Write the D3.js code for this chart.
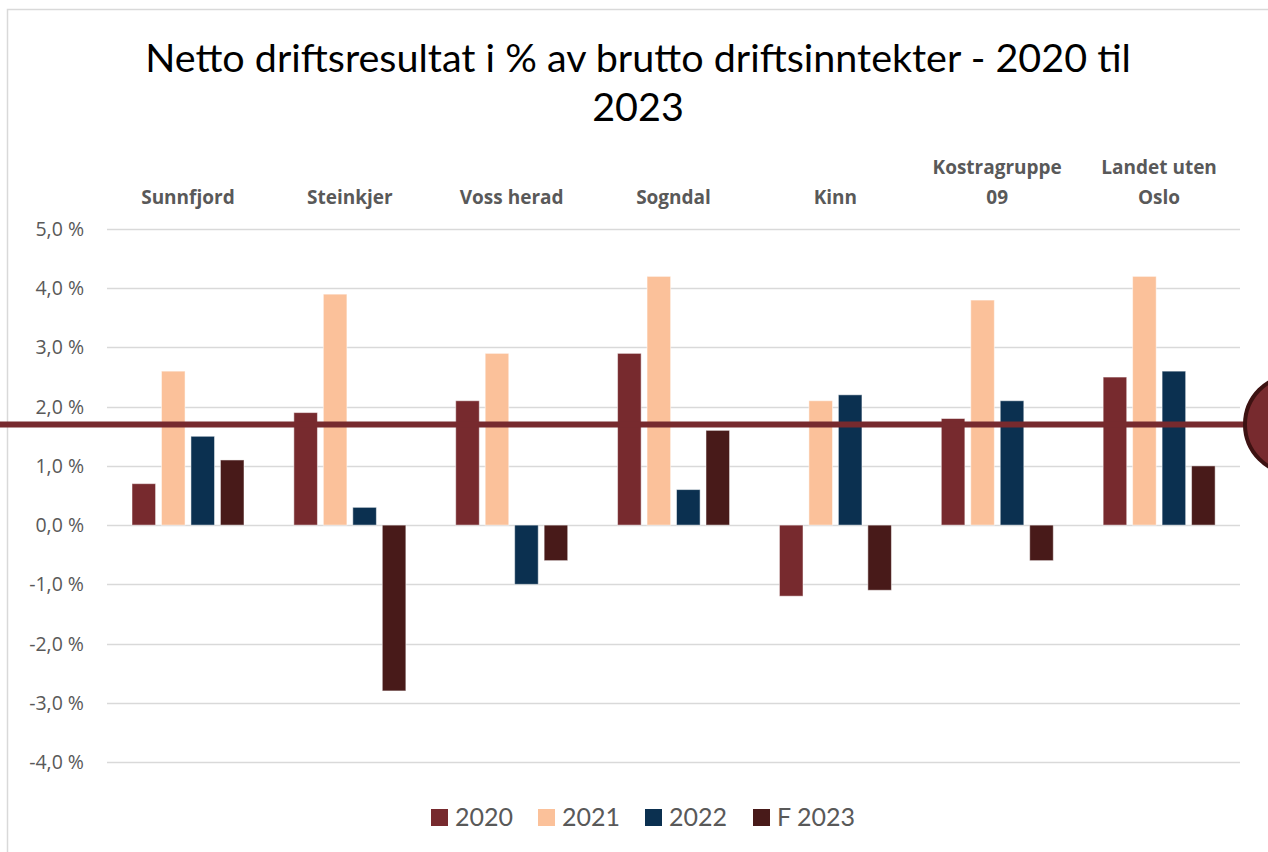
<!DOCTYPE html>
<html>
<head>
    <meta charset="utf-8">
    <title>Netto driftsresultat</title>
    <script src="https://cdn.jsdelivr.net/npm/d3@7/dist/d3.min.js"></script>
    <style>
        html, body {
            width: 1268px;
            height: 852px;
            margin: 0;
            padding: 0;
            overflow: hidden;
            background: #fff;
        }
        svg { display: block; }
    </style>
</head>
<body>
<svg id="chart" width="1268" height="852"></svg>
<script>
    // data
    var categories = [["Sunnfjord"], ["Steinkjer"], ["Voss herad"], ["Sogndal"], ["Kinn"], ["Kostragruppe", "09"], ["Landet uten", "Oslo"]];
    var seriesNames = ["2020", "2021", "2022", "F 2023"];
    var v2020 = [0.7, 1.9, 2.1, 2.9, -1.2, 1.8, 2.5];
    var v2021 = [2.6, 3.9, 2.9, 4.2, 2.1, 3.8, 4.2];
    var v2022 = [1.5, 0.3, -1.0, 0.6, 2.2, 2.1, 2.6];
    var vF2023 = [1.1, -2.8, -0.6, 1.6, -1.1, -0.6, 1.0];
    var referenceLine = 1.7;
    var yTicks = [-4, -3, -2, -1, 0, 1, 2, 3, 4, 5];

    var seriesValues = [v2020, v2021, v2022, vF2023];
    var colors = ["#772a2e", "#fbc19a", "#0b3050", "#481a19"];

    var svg = d3.select("#chart");
    var textGray = "#595959";

    // outer border of the chart area
    svg.append("rect")
        .attr("x", 7.5).attr("y", 9.5)
        .attr("width", 1300).attr("height", 900)
        .attr("fill", "#fff")
        .attr("stroke", "#d9d9d9")
        .attr("stroke-width", 1.5);

    // title
    var title = svg.append("text")
        .attr("text-anchor", "middle")
        .attr("font-family", "Lato, 'Open Sans', sans-serif")
        .attr("font-size", 39.5)
        .attr("fill", "#000");
    title.append("tspan").attr("x", 638).attr("y", 72).text("Netto driftsresultat i % av brutto driftsinntekter - 2020 til");
    title.append("tspan").attr("x", 638).attr("y", 121).text("2023");

    // scales
    var x0 = d3.scaleBand()
        .domain(d3.range(categories.length))
        .range([107, 1240]);

    var x1 = d3.scaleBand()
        .domain(d3.range(seriesNames.length))
        .range([25, 137])
        .paddingInner(0.2);

    var y = d3.scaleLinear()
        .domain([-4, 5])
        .range([762, 229]);

    var nb = d3.formatLocale({decimal: ",", thousands: " ", grouping: [3], currency: ["", " kr"], minus: "-"});
    var fmt = nb.format(".1f");

    // gridlines
    svg.append("g").selectAll("line")
        .data(yTicks)
        .enter()
        .append("line")
        .attr("x1", 107).attr("x2", 1240)
        .attr("y1", function (d) { return Math.round(y(d)) + 0.5; })
        .attr("y2", function (d) { return Math.round(y(d)) + 0.5; })
        .attr("stroke", "#d9d9d9")
        .attr("stroke-width", 1.5);

    // y tick labels
    svg.append("g").selectAll("text")
        .data(yTicks)
        .enter()
        .append("text")
        .attr("x", 84)
        .attr("y", function (d) { return y(d) + 7; })
        .attr("text-anchor", "end")
        .attr("font-family", "'Open Sans', sans-serif")
        .attr("font-size", 19.5)
        .attr("fill", textGray)
        .text(function (d) { return fmt(d) + " %"; });

    // category labels on top
    var catG = svg.append("g");
    categories.forEach(function (lines, i) {
        var t = catG.append("text")
            .attr("text-anchor", "middle")
            .attr("font-family", "'Open Sans', sans-serif")
            .attr("font-weight", "bold")
            .attr("font-size", 19)
            .attr("fill", textGray);
        var startY = lines.length == 1 ? 204 : 174;
        lines.forEach(function (s, k) {
            t.append("tspan")
                .attr("x", x0(i) + x0.bandwidth() / 2)
                .attr("y", startY + k * 30)
                .text(s);
        });
    });

    // bars
    var groups = svg.append("g").selectAll("g")
        .data(categories)
        .enter()
        .append("g")
        .attr("transform", function (d, i) { return "translate(" + x0(i) + ",0)"; });

    groups.selectAll("rect")
        .data(function (d, i) {
            return seriesValues.map(function (vals, s) { return {s: s, v: vals[i]}; });
        })
        .enter()
        .append("rect")
        .attr("x", function (d) { return x1(d.s); })
        .attr("width", x1.bandwidth())
        .attr("y", function (d) { return y(Math.max(0, d.v)); })
        .attr("height", function (d) { return Math.abs(y(d.v) - y(0)); })
        .attr("fill", function (d) { return colors[d.s]; })
        .attr("stroke", "#fff")
        .attr("stroke-opacity", 0.5)
        .attr("stroke-width", 1);

    // reference line + circle marker
    svg.append("line")
        .attr("x1", 0).attr("x2", 1250)
        .attr("y1", y(referenceLine)).attr("y2", y(referenceLine))
        .attr("stroke", "#772a2e")
        .attr("stroke-width", 6);

    svg.append("circle")
        .attr("cx", 1294)
        .attr("cy", y(referenceLine))
        .attr("r", 49)
        .attr("fill", "#772a2e")
        .attr("stroke", "#3d1212")
        .attr("stroke-width", 4);

    // legend
    var legendX = [431, 538, 645, 753];
    var legend = svg.append("g").selectAll("g")
        .data(seriesNames)
        .enter()
        .append("g")
        .attr("transform", function (d, i) { return "translate(" + legendX[i] + ",809)"; });

    legend.append("rect")
        .attr("width", 17).attr("height", 17)
        .attr("fill", function (d, i) { return colors[i]; });

    legend.append("text")
        .attr("x", 24).attr("y", 17)
        .attr("font-family", "Lato, 'Open Sans', sans-serif")
        .attr("font-size", 25)
        .attr("fill", textGray)
        .text(function (d) { return d; });
</script>
</body>
</html>
